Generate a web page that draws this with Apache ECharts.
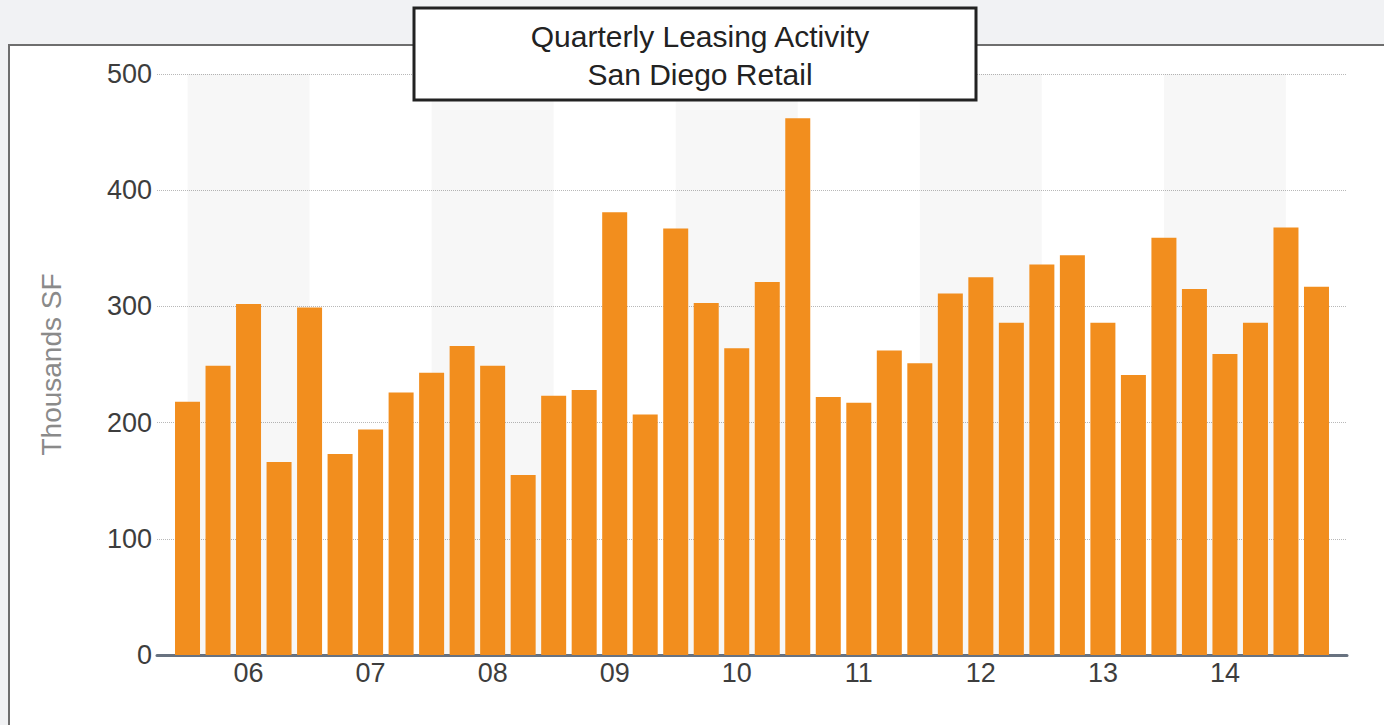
<!DOCTYPE html>
<html>
<head>
<meta charset="utf-8">
<script src="https://cdn.jsdelivr.net/npm/echarts@6/dist/echarts.min.js"></script>
<style>
  html, body { margin: 0; padding: 0; background: #f1f2f4; }
  #panel { position: absolute; left: 8px; top: 44px; width: 1380px; height: 720px;
           background: #fff; border: 2px solid #6e6e6e; box-sizing: border-box; }
  #chart { position: absolute; left: 0; top: 0; width: 1384px; height: 725px; }
</style>
</head>
<body>
<div id="panel"></div>
<div id="chart"></div>
<script>
// Quarters 2005 Q3 .. 2014 Q4
const quarters = [
  '05Q3','05Q4',
  '06Q1','06Q2','06Q3','06Q4',
  '07Q1','07Q2','07Q3','07Q4',
  '08Q1','08Q2','08Q3','08Q4',
  '09Q1','09Q2','09Q3','09Q4',
  '10Q1','10Q2','10Q3','10Q4',
  '11Q1','11Q2','11Q3','11Q4',
  '12Q1','12Q2','12Q3','12Q4',
  '13Q1','13Q2','13Q3','13Q4',
  '14Q1','14Q2','14Q3','14Q4'
];
// Leasing activity, thousands SF
const leasing = [
  218, 249,
  302, 166, 299, 173,
  194, 226, 243, 266,
  249, 155, 223, 228,
  381, 207, 367, 303,
  264, 321, 462, 222,
  217, 262, 251, 311,
  325, 286, 336, 344,
  286, 241, 359, 315,
  259, 286, 368, 317
];
const yTicks = [0, 100, 200, 300, 400, 500];
const titleLines = ['Quarterly Leasing Activity', 'San Diego Retail'];
const yAxisName = 'Thousands SF';

// one empty slot on each side of the category axis
const axisCats = [''].concat(quarters).concat([' ']);
const barData = ['-'].concat(leasing).concat(['-']);
const bands = [];
for (let k = 0; k + 4 < quarters.length; k += 8) {
  bands.push([{ xAxis: quarters[k] }, { xAxis: quarters[k + 4] }]);
}

const font = 'Liberation Sans, Arial, Helvetica, sans-serif';
const chart = echarts.init(document.getElementById('chart'), null, { renderer: 'svg' });
chart.setOption({
  backgroundColor: 'transparent',
  animation: false,
  title: {
    text: titleLines.join('\n'),
    left: 695,
    top: 12,
    textAlign: 'center',
    z: 10,
    textStyle: { fontFamily: font, fontSize: 30, fontWeight: 'normal', color: '#222', lineHeight: 38 }
  },
  graphic: [{
    type: 'rect', z: 8,
    shape: { x: 414, y: 8, width: 562, height: 92 },
    style: { fill: '#fff', stroke: '#222', lineWidth: 3 }
  }],
  grid: { left: 157, right: 37, top: 74, bottom: 70 },
  xAxis: {
    type: 'category',
    data: axisCats,
    boundaryGap: false,
    axisLine: { lineStyle: { color: '#687280', width: 3 } },
    axisTick: { show: false },
    splitLine: { show: false },
    axisLabel: {
      interval: (i, v) => v.endsWith('Q1'),
      formatter: v => v.slice(0, 2),
      fontFamily: font, fontSize: 27, color: '#3d3d3d', margin: 4
    }
  },
  yAxis: {
    type: 'value',
    min: yTicks[0], max: yTicks[yTicks.length - 1], interval: 100,
    name: yAxisName,
    nameLocation: 'middle',
    nameGap: 92,
    nameTextStyle: { fontFamily: font, fontSize: 28, color: '#8a8a8a' },
    axisLine: { show: false },
    axisTick: { show: false },
    axisLabel: { fontFamily: font, fontSize: 27, color: '#3d3d3d', margin: 5 },
    splitLine: { lineStyle: { type: 'dotted', color: '#b8b8b8', width: 1 } }
  },
  series: [
    {
      type: 'line', data: [], z: 1, silent: true,
      markArea: { silent: true, itemStyle: { color: 'rgba(0,0,0,0.03)' }, data: bands }
    },
    {
      type: 'bar', data: barData, barWidth: 25, z: 3,
      itemStyle: { color: '#F28E1E' }
    }
  ]
});
</script>
</body>
</html>
